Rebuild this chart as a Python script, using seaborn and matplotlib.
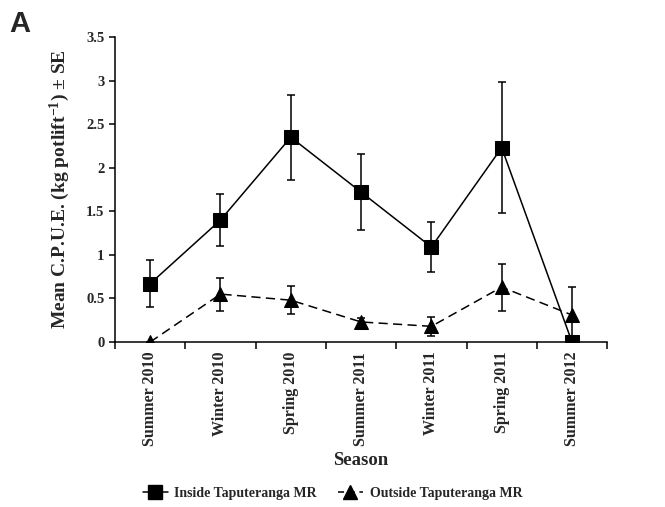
import matplotlib
matplotlib.use("Agg")
import matplotlib.pyplot as plt
import seaborn as sns
import pandas as pd
import numpy as np
from matplotlib.lines import Line2D

seasons = ["Summer 2010", "Winter 2010", "Spring 2010", "Summer 2011",
           "Winter 2011", "Spring 2011", "Summer 2012"]
inside_mean = [0.67, 1.40, 2.35, 1.72, 1.09, 2.23, 0.0]
inside_se = [0.27, 0.30, 0.49, 0.44, 0.29, 0.75, 0.0]
outside_mean = [0.0, 0.55, 0.48, 0.23, 0.18, 0.63, 0.31]
outside_se = [0.0, 0.19, 0.16, 0.04, 0.11, 0.27, 0.32]
groups = ["Inside Taputeranga MR", "Outside Taputeranga MR"]

sns.set_style("ticks")
plt.rcParams['font.family'] = ['Liberation Serif', 'DejaVu Serif']
plt.rcParams['mathtext.fontset'] = 'custom'
plt.rcParams['mathtext.rm'] = 'Liberation Serif:bold'
plt.rcParams['mathtext.bf'] = 'Liberation Serif:bold'
plt.rcParams['mathtext.it'] = 'Liberation Serif:bold'

df = pd.DataFrame({
    "Season": seasons * 2,
    "CPUE": inside_mean + outside_mean,
    "Group": [groups[0]] * 7 + [groups[1]] * 7,
})

fig = plt.figure(figsize=(6.65, 5.07), dpi=100)
ax = fig.add_axes([0.173, 0.3254, 0.740, 0.6016])

sns.lineplot(data=df, x="Season", y="CPUE", style="Group", markers=["s", "^"],
             dashes=[(1, 0), (6, 3.5)], color="black", markersize=9.5,
             linewidth=1.1, ax=ax, legend=False, markeredgecolor="black")

x = np.arange(len(seasons))
ax.errorbar(x, inside_mean, yerr=inside_se, fmt="none", ecolor="black",
            elinewidth=1.1, capsize=3, capthick=1.1, zorder=1)
ax.errorbar(x, outside_mean, yerr=outside_se, fmt="none", ecolor="black",
            elinewidth=1.1, capsize=3, capthick=1.1, zorder=1)

ax.set_xlim(-0.5, 6.5)
ax.set_ylim(0, 3.5)
ax.set_yticks([0, 0.5, 1, 1.5, 2, 2.5, 3, 3.5])
ax.set_yticklabels(["0", "0.5", "1", "1.5", "2", "2.5", "3", "3.5"],
                   fontsize=10.5, fontweight="bold")
ax.set_xticks(x)
ax.set_xticklabels(seasons, rotation=90, fontsize=11.5, fontweight="bold")
ax.tick_params(axis="x", length=0, pad=7)
ax.set_xticks(np.arange(-0.5, 6.6, 1), minor=True)
ax.tick_params(axis="x", which="minor", length=5, width=1.1, color="black")
ax.tick_params(axis="y", length=4, width=1.1, color="black")
for s in ["top", "right"]:
    ax.spines[s].set_visible(False)
for s in ["left", "bottom"]:
    ax.spines[s].set_color("black")
    ax.spines[s].set_linewidth(1.1)

ax.set_xlabel("Season", fontsize=13.5, fontweight="bold", labelpad=4)
ax.set_ylabel("Mean C.P.U.E. (kg potlift$^{-1}$) ± SE", fontsize=14,
              fontweight="bold", labelpad=10)

handles = [
    Line2D([], [], color="black", marker="s", markersize=9.5, linestyle="-", linewidth=1.1),
    Line2D([], [], color="black", marker="^", markersize=9.5, linestyle=(0, (4, 3)), linewidth=1.1),
]
fig.legend(handles, groups, loc="center", bbox_to_anchor=(0.5, 0.027), ncol=2,
           frameon=False, prop={"family": "Liberation Serif", "weight": "bold", "size": 10},
           handlelength=1.8, columnspacing=1.5, handletextpad=0.5)

fig.text(0.014, 0.953, "A", fontsize=21, fontweight="bold", family="Liberation Sans",
         va="center", ha="left")

fig.savefig("out.png", dpi=100)
